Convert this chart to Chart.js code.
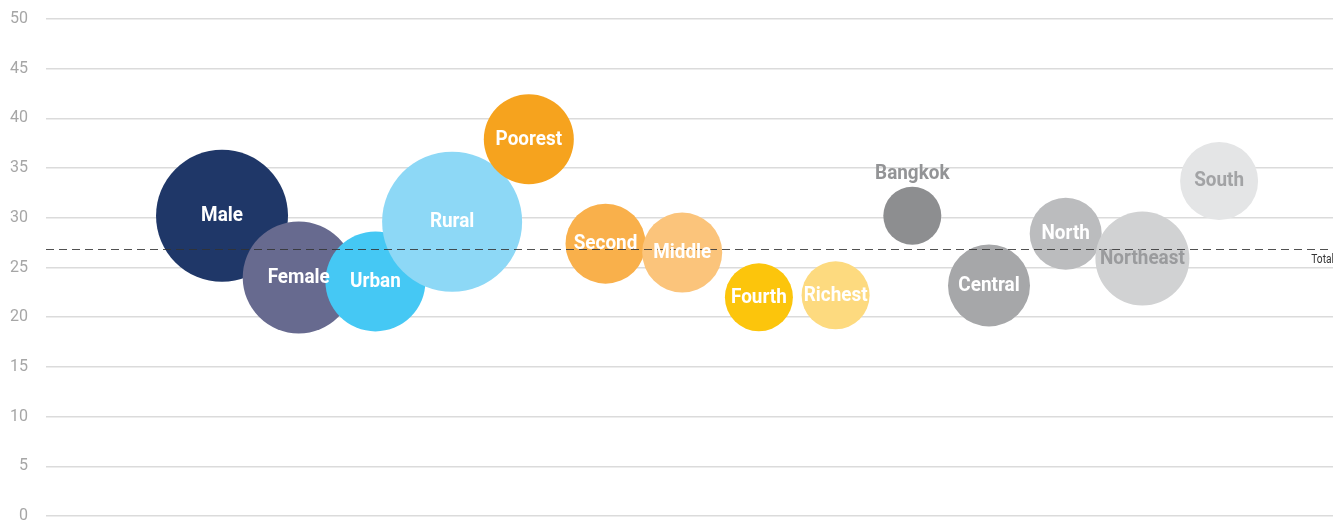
<!DOCTYPE html>
<html>
<head>
<meta charset="utf-8">
<script src="https://cdn.jsdelivr.net/npm/chart.js@4"></script>
<style>
  html, body { margin: 0; padding: 0; background: #fff; overflow: hidden; }
  canvas { display: block; }
</style>
</head>
<body>
<canvas id="bubbleChart" width="1333" height="521"></canvas>
<script>
// rate by group, bubble size = relative weight of the group
const groups = ['Male', 'Female', 'Urban', 'Rural', 'Poorest', 'Second', 'Middle', 'Fourth', 'Richest', 'Bangkok', 'Central', 'North', 'Northeast', 'South'];
const rates = [30.2, 24.0, 23.6, 29.6, 37.9, 27.4, 26.5, 22.0, 22.2, 30.2, 23.2, 28.4, 25.9, 33.7];
const bubbleSize = [66, 56, 50, 70, 45, 40, 40, 34, 34, 29, 41, 36, 47, 39];
const totalRate = 26.9;
const yTicks = [0, 5, 10, 15, 20, 25, 30, 35, 40, 45, 50];

const colors = ['#1f3768', '#676a8f', '#45c8f4', '#8dd8f6', '#f6a31e', '#f9b04b', '#fbc47b', '#fcc50c', '#fdda7f',
                '#8d8e90', '#a6a7a9', '#bbbcbe', '#d1d2d3', '#e4e5e6'];
const labelColors = ['#fff', '#fff', '#fff', '#fff', '#fff', '#fff', '#fff', '#fff', '#fff',
                     '#939496', '#fff', '#fff', '#9a9b9d', '#a2a3a5'];
const fontFamily = 'Roboto, "Liberation Sans", sans-serif';

// draw text squeezed horizontally (condensed look)
function narrowText(ctx, text, x, y, squeeze) {
    ctx.save();
    ctx.translate(x, y);
    ctx.scale(squeeze, 1);
    ctx.fillText(text, 0, 0);
    ctx.restore();
}

// dashed total line + "Total"
const totalLine = {
    id: 'totalLine',
    afterDatasetsDraw(chart) {
        const { ctx, chartArea, scales } = chart;
        const y = Math.round(scales.y.getPixelForValue(totalRate)) + 0.5;
        ctx.save();
        ctx.strokeStyle = 'rgba(50,50,50,0.85)';
        ctx.lineWidth = 1;
        ctx.setLineDash([8, 5]);
        ctx.beginPath();
        ctx.moveTo(chartArea.left, y);
        ctx.lineTo(chartArea.right, y);
        ctx.stroke();
        ctx.setLineDash([]);
        ctx.font = '12px ' + fontFamily;
        ctx.fillStyle = '#333';
        ctx.textAlign = 'right';
        ctx.textBaseline = 'top';
        narrowText(ctx, 'Total', chartArea.right + 1, y + 4, 0.85);
        ctx.restore();
    }
};

// group names on the bubbles
const bubbleLabels = {
    id: 'bubbleLabels',
    afterDraw(chart) {
        const { ctx } = chart;
        const meta = chart.getDatasetMeta(0);
        ctx.save();
        ctx.font = 'bold 21px ' + fontFamily;
        ctx.textAlign = 'center';
        ctx.textBaseline = 'middle';
        meta.data.forEach((pt, i) => {
            let y = pt.y;
            if (groups[i] === 'Bangkok') y = pt.y - bubbleSize[i] - 13;
            ctx.fillStyle = labelColors[i];
            narrowText(ctx, groups[i], pt.x, y, 0.9);
        });
        ctx.restore();
    }
};

const bubbleChart = document.querySelector('#bubbleChart');
const graph = new Chart(bubbleChart, {
    type: 'bubble',
    data: {
        datasets: [
            {
                data: groups.map((g, i) => ({ x: i, y: rates[i], r: bubbleSize[i] })),
                backgroundColor: colors,
                borderWidth: 0,
                hoverRadius: 0,
                clip: false,
            },
        ],
    },
    options: {
        responsive: false,
        animation: false,
        events: [],
        devicePixelRatio: 1,
        layout: {
            autoPadding: false,
            padding: { top: 19, bottom: 5, left: 0, right: 0 },
        },
        plugins: {
            legend: { display: false },
            tooltip: { enabled: false },
        },
        scales: {
            x: {
                type: 'linear',
                display: false,
                min: -2.295,
                max: 14.485,
            },
            y: {
                min: 0,
                max: 50,
                z: 1,
                afterBuildTicks(scale) {
                    scale.ticks = yTicks.map(v => ({ value: v }));
                },
                afterFit(scale) {
                    scale.width = 46;
                    scale.paddingTop = 0;
                    scale.paddingBottom = 0;
                },
                border: { display: false },
                grid: {
                    color: 'rgba(0,0,0,0.14)',
                    lineWidth: 1.5,
                    drawTicks: false,
                },
                ticks: {
                    padding: 18,
                    color: '#a6a6a6',
                    font: { family: fontFamily, size: 16 },
                },
            },
        },
    },
    plugins: [totalLine, bubbleLabels],
});
</script>
</body>
</html>
